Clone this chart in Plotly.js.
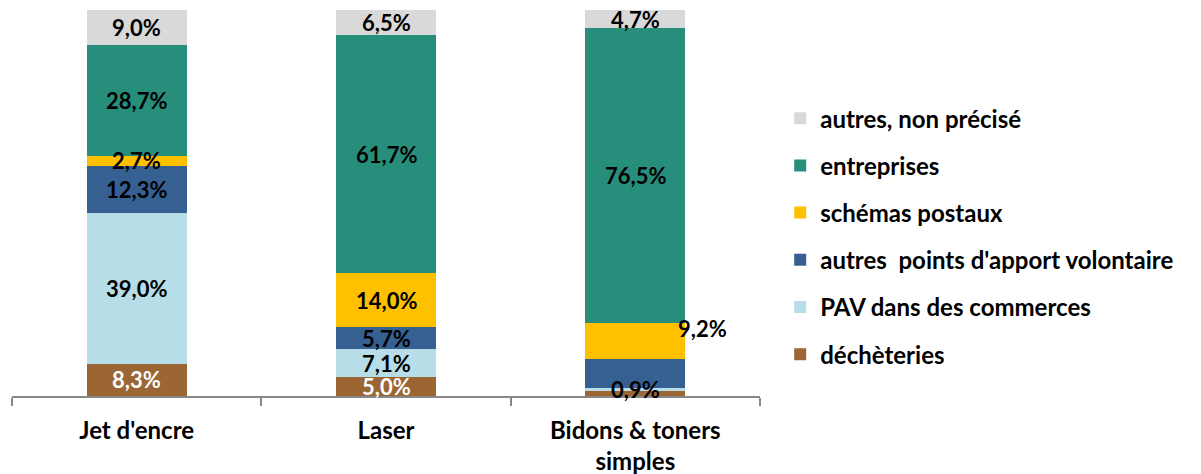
<!DOCTYPE html>
<html><head><meta charset="utf-8">
<script src="https://cdn.plot.ly/plotly-3.0.1.min.js"></script>
<style>html,body{margin:0;padding:0;background:#fff}#c{width:1201px;height:474px}</style>
</head><body><div id="c"></div>
<script>
const categories = ["Jet d'encre", "Laser", "Bidons & toners<br>simples"];
const seriesNames = ["déchèteries", "PAV dans des commerces", "autres  points d'apport volontaire", "schémas postaux", "entreprises", "autres, non précisé"];
const dechetteries = [8.3, 5.0, 1.2];
const pavCommerces = [39.0, 7.1, 0.9];
const autresPav = [12.3, 5.7, 7.5];
const schemasPostaux = [2.7, 14.0, 9.2];
const entreprises = [28.7, 61.7, 76.5];
const autresNonPrecise = [9.0, 6.5, 4.7];
const labels = [
  ["8,3%", "5,0%", ""],
  ["39,0%", "7,1%", "0,9%"],
  ["12,3%", "5,7%", ""],
  ["2,7%", "14,0%", "9,2%"],
  ["28,7%", "61,7%", "76,5%"],
  ["9,0%", "6,5%", "4,7%"]
];
const colors = ["#9B6534", "#B7DEE8", "#366092", "#FFC000", "#288E7C", "#D9D9D9"];
const labelColors = ["#fff", "#000", "#000", "#000", "#000", "#000"];
const series = [dechetteries, pavCommerces, autresPav, schemasPostaux, entreprises, autresNonPrecise];
const FONT = "Lato, 'Open Sans', sans-serif";

const traces = series.map((vals, i) => ({
  type: 'bar', x: categories, y: vals, name: '<b>' + seriesNames[i] + '</b>',
  marker: {color: colors[i], line: {width: 0}},
  legendgroup: 'g' + i, legendrank: 100 - i, hoverinfo: 'skip'
}));

const annotations = [];
const cum = [0, 0, 0];
series.forEach((vals, i) => {
  vals.forEach((v, j) => {
    const mid = cum[j] + v / 2;
    cum[j] += v;
    if (!labels[i][j]) return;
    const a = {x: categories[j], y: mid, xref: 'x', yref: 'y', text: '<b>' + labels[i][j] + '</b>',
      showarrow: false, borderpad: 0, font: {family: FONT, size: 22, color: labelColors[i]}};
    if (j === 2 && i === 3) { a.xshift = 67; a.yshift = 13; }
    annotations.push(a);
  });
});

const layout = {
  width: 1201, height: 474,
  margin: {l: 12, r: 441, t: 10, b: 78},
  barmode: 'stack', bargap: 0.6,
  paper_bgcolor: '#fff', plot_bgcolor: '#fff',
  font: {family: FONT, color: '#000'},
  xaxis: {
    type: 'category', tickson: 'boundaries', ticks: 'outside', ticklen: 8, tickcolor: '#888', tickwidth: 2,
    showline: true, linecolor: '#888', linewidth: 2, showgrid: false,
    ticklabelstandoff: 12,
    tickfont: {family: FONT, size: 24, color: '#000', weight: 'bold'}
  },
  yaxis: {range: [0, 100], visible: false, showgrid: false, zeroline: false},
  legend: {
    x: 1.027, y: 0.777, xanchor: 'left', yanchor: 'top',
    traceorder: 'grouped', tracegroupgap: 13,
    font: {family: FONT, size: 24, color: '#000', weight: 700},
    bgcolor: 'rgba(0,0,0,0)'
  },
  annotations: annotations,
  showlegend: true
};
Plotly.newPlot('c', traces, layout, {displayModeBar: false, staticPlot: true});
</script></body></html>
